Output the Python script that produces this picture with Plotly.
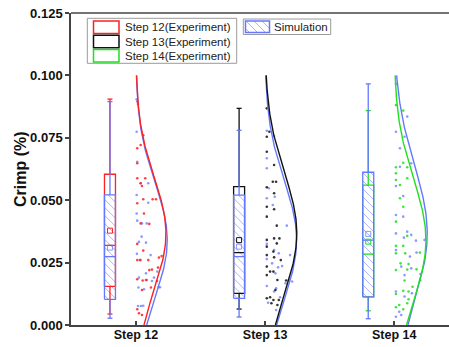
import numpy as np
import plotly.graph_objects as go

# ---------------- data ----------------
categories = ["Step 12", "Step 13", "Step 14"]
exp_names = ["Step 12(Experiment)", "Step 13(Experiment)", "Step 14(Experiment)"]
sim_name = "Simulation"

# box statistics (experiment)
exp_whisker_low = [0.0044, 0.0064, 0.0057]
exp_q1 = [0.0155, 0.0127, 0.0113]
exp_median = [0.0319, 0.0290, 0.0284]
exp_q3 = [0.0604, 0.0554, 0.0560]
exp_whisker_high = [0.0905, 0.0868, 0.0859]
exp_mean = [0.0378, 0.0340, 0.0334]

# box statistics (simulation)
sim_whisker_low = [0.0027, 0.0032, 0.0025]
sim_q1 = [0.0103, 0.0107, 0.0113]
sim_median = [0.0274, 0.0274, 0.0340]
sim_q3 = [0.0521, 0.0520, 0.0612]
sim_whisker_high = [0.0895, 0.0780, 0.0966]
sim_mean = [0.0310, 0.0314, 0.0365]

# normal distribution fits
exp_fit_mean = [0.0367, 0.0367, 0.0340]
exp_fit_sd = [0.0226, 0.0245, 0.0247]
sim_fit_mean = [0.0340, 0.0340, 0.0367]
sim_fit_sd = [0.0232, 0.0240, 0.0277]

# raw points (Crimp %)
exp_points_12 = [0.0895, 0.0885, 0.0760, 0.0708, 0.0721, 0.0648, 0.0588, 0.0588, 0.0557, 0.0568,
                 0.0488, 0.0504, 0.0504, 0.0504, 0.0447, 0.0407, 0.0405, 0.0325, 0.0298, 0.0260,
                 0.0260, 0.0260, 0.0276, 0.0270, 0.0220, 0.0222, 0.0230, 0.0183, 0.0178, 0.0176,
                 0.0140, 0.0150, 0.0063, 0.0047, 0.0040, 0.0180]
sim_points_12 = [0.0904, 0.0774, 0.0654, 0.0568, 0.0568, 0.0521, 0.0490, 0.0447, 0.0418, 0.0407,
                 0.0407, 0.0354, 0.0333, 0.0330, 0.0285, 0.0280, 0.0260, 0.0207, 0.0214, 0.0190,
                 0.0180, 0.0176, 0.0150, 0.0143, 0.0151, 0.0151, 0.0076, 0.0076, 0.0077, 0.0190]
exp_points_13 = [0.0868, 0.0754, 0.0774, 0.0694, 0.0641, 0.0574, 0.0574, 0.0552, 0.0528, 0.0474,
                 0.0464, 0.0434, 0.0398, 0.0347, 0.0347, 0.0341, 0.0327, 0.0314, 0.0294, 0.0280,
                 0.0271, 0.0234, 0.0260, 0.0214, 0.0200, 0.0214, 0.0180, 0.0178, 0.0140, 0.0111,
                 0.0107, 0.0100, 0.0100, 0.0087, 0.0080]
sim_points_13 = [0.0778, 0.0757, 0.0668, 0.0628, 0.0548, 0.0514, 0.0508, 0.0481, 0.0398, 0.0325,
                 0.0300, 0.0287, 0.0280, 0.0264, 0.0247, 0.0236, 0.0231, 0.0207, 0.0180, 0.0156,
                 0.0147, 0.0167, 0.0174, 0.0134, 0.0111, 0.0089, 0.0060]
exp_points_14 = [0.0881, 0.0859, 0.0632, 0.0650, 0.0632, 0.0608, 0.0561, 0.0581, 0.0588, 0.0414,
                 0.0474, 0.0508, 0.0317, 0.0317, 0.0357, 0.0287, 0.0287, 0.0290, 0.0247, 0.0244,
                 0.0223, 0.0220, 0.0222, 0.0178, 0.0178, 0.0124, 0.0137, 0.0134, 0.0153, 0.0071,
                 0.0080, 0.0063, 0.0087, 0.0103]
sim_points_14 = [0.0966, 0.0774, 0.0835, 0.0754, 0.0708, 0.0648, 0.0634, 0.0557, 0.0517, 0.0441,
                 0.0434, 0.0374, 0.0361, 0.0338, 0.0341, 0.0367, 0.0350, 0.0300, 0.0274, 0.0290,
                 0.0234, 0.0227, 0.0200, 0.0204, 0.0134, 0.0127, 0.0114, 0.0053, 0.0033, 0.0040]

# horizontal jitter of the raw points (pixels right of the category tick)
exp_jitter_12 = [1.5, 2.0, 7.3, 1.3, 4.7, 1.3, 1.3, 9.3, 6.0, 4.7, 1.3, 7.3, 16.7, 20.0, 8.0, 4.7, 13.3,
                 1.3, 7.3, 1.3, 4.0, 12.3, 25.7, 23.0, 13.3, 16.0, 22.0, 1.3, 6.7, 21.0, 6.0, 15.0,
                 1.3, 3.0, 6.0, 10.0]
sim_jitter_12 = [0.7, 0.7, 1.3, 4.7, 12.3, 0.7, 12.3, 0.7, 1.3, 6.0, 10.7, 5.7, 3.0, 10.0, 1.0, 14.7,
                 4.7, 10.0, 21.3, 3.0, 11.0, 16.0, 2.5, 8.0, 22.7, 24.0, 2.0, 5.0, 7.3, 18.0]
exp_jitter_13 = [1.7, 1.7, 4.3, 1.7, 9.0, 7.7, 11.0, 1.7, 9.0, 1.7, 9.0, 1.7, 11.7, 9.0, 14.3, 1.7,
                 11.7, 1.7, 8.3, 1.7, 9.0, 1.7, 15.7, 5.0, 1.7, 8.3, 12.3, 21.0, 10.3, 5.0, 1.7, 8.3,
                 13.7, 6.3, 12.3]
sim_jitter_13 = [1.7, 9.0, 1.7, 1.7, 3.7, 9.7, 1.7, 7.7, 21.7, 1.7, 9.0, 13.7, 25.0, 1.7, 7.0, 17.0,
                 13.0, 10.3, 23.7, 1.7, 11.0, 20.3, 27.0, 9.0, 15.0, 3.0, 11.0]
exp_jitter_14 = [1.7, 9.0, 1.7, 9.0, 13.0, 1.7, 5.7, 1.7, 13.0, 1.7, 9.0, 5.7, 1.7, 9.0, 13.0, 1.7,
                 11.0, 25.7, 6.3, 14.3, 22.3, 1.7, 13.0, 26.0, 10.3, 1.7, 9.0, 14.3, 18.3, 1.7, 5.0,
                 9.0, 13.0, 14.3]
sim_jitter_14 = [1.7, 1.7, 13.0, 10.3, 5.7, 17.0, 5.7, 1.7, 9.0, 1.7, 9.0, 13.0, 17.0, 21.7, 30.3,
                 1.7, 9.7, 1.7, 15.7, 22.3, 7.0, 17.0, 10.3, 26.3, 1.7, 17.7, 10.3, 5.0, 1.7, 7.0]

exp_points = [exp_points_12, exp_points_13, exp_points_14]
sim_points = [sim_points_12, sim_points_13, sim_points_14]
exp_jitter = [exp_jitter_12, exp_jitter_13, exp_jitter_14]
sim_jitter = [sim_jitter_12, sim_jitter_13, sim_jitter_14]

# ---------------- style / layout ----------------
W, H = 449, 347
ML, MR, MT, MB = 71, 0, 13, 22
PLOT_W = W - ML - MR
PLOT_H = H - MT - MB
X_RANGE = [0.497, 3.424]
Y_RANGE = [0.0, 0.125]
PX = (X_RANGE[1] - X_RANGE[0]) / PLOT_W   # x-units per pixel
PY = (Y_RANGE[1] - Y_RANGE[0]) / PLOT_H   # y-units per pixel

FONT = "Liberation Sans, Arial, sans-serif"
AXIS_COLOR = "#444444"
BLUE = "#6478ff"
HATCH_COLOR = "rgba(100,120,255,0.55)"
BLUE_PT = "rgba(100,120,255,0.75)"
EXP_COLORS = ["#ff2020", "#111111", "#1ee01e"]
EXP_PT = ["rgba(255,32,32,0.85)", "rgba(17,17,17,0.85)", "rgba(30,224,30,0.85)"]

BOX_OFF = -26 * PX
BOX_W = 11 * PX
CAP_W = 5 * PX
HATCH_STEP = 8.0   # px between hatch lines (vertical spacing)
exp_curve_px = [30.0, 31.7, 31.7]
sim_curve_px = [31.3, 31.5, 33.0]
CURVE_TOP = 0.1

pos = np.arange(1, len(categories) + 1)


def p2paper(x, y):
    return (x - ML) / PLOT_W, (H - MB - y) / PLOT_H


def hatch_segments(ul, ur, wb, wt, step):
    """'\\' hatch lines inside a rectangle given in upward pixel coords (u right, w up)."""
    xs, ys = [], []
    k = ul + wb + step / 2
    while k < ur + wt:
        a = max(ul, k - wt)
        b = min(ur, k - wb)
        if b > a:
            xs += [a, b, None]
            ys += [k - a, k - b, None]
        k += step
    return xs, ys


fig = go.Figure()

# ---- hatch of simulation boxes ----
hx, hy = [], []
for i, c in enumerate(pos + BOX_OFF):
    ul = (c - BOX_W / 2) / PX
    ur = (c + BOX_W / 2) / PX
    wb = sim_q1[i] / PY
    wt = sim_q3[i] / PY
    xs, ys = hatch_segments(ul, ur, wb, wt, HATCH_STEP)
    hx += [None if v is None else v * PX for v in xs]
    hy += [None if v is None else v * PY for v in ys]
fig.add_trace(go.Scatter(x=hx, y=hy, mode="lines", line=dict(color=HATCH_COLOR, width=1),
                         showlegend=False, hoverinfo="skip"))


def box_lines(c, lo, q1, med, q3, hi, color, width=1.3):
    l, r = c - BOX_W / 2, c + BOX_W / 2
    xs = [l, r, r, l, l, None,
          c, c, None, c, c, None,
          c - CAP_W / 2, c + CAP_W / 2, None, c - CAP_W / 2, c + CAP_W / 2, None,
          l, r]
    ys = [q1, q1, q3, q3, q1, None,
          q3, hi, None, q1, lo, None,
          hi, hi, None, lo, lo, None,
          med, med]
    fig.add_trace(go.Scatter(x=xs, y=ys, mode="lines", line=dict(color=color, width=width),
                             showlegend=False, hoverinfo="skip"))


for i, c in enumerate(pos + BOX_OFF):
    box_lines(c, exp_whisker_low[i], exp_q1[i], exp_median[i], exp_q3[i], exp_whisker_high[i],
              EXP_COLORS[i])
for i, c in enumerate(pos + BOX_OFF):
    box_lines(c, sim_whisker_low[i], sim_q1[i], sim_median[i], sim_q3[i], sim_whisker_high[i],
              BLUE)

# means
fig.add_trace(go.Scatter(x=pos + BOX_OFF, y=exp_mean, mode="markers",
                         marker=dict(symbol="square-open", size=5, color=EXP_COLORS,
                                     line=dict(width=1)),
                         showlegend=False, hoverinfo="skip"))
fig.add_trace(go.Scatter(x=pos + BOX_OFF, y=sim_mean, mode="markers",
                         marker=dict(symbol="square-open", size=5, color=BLUE_PT,
                                     line=dict(width=1)),
                         showlegend=False, hoverinfo="skip"))

# ---- raw points ----
for i, c in enumerate(pos):
    fig.add_trace(go.Scatter(x=c + np.array(sim_jitter[i]) * PX, y=sim_points[i], mode="markers",
                             marker=dict(size=2.6, color=BLUE_PT, line=dict(width=0)),
                             showlegend=False, hoverinfo="skip"))
    fig.add_trace(go.Scatter(x=c + np.array(exp_jitter[i]) * PX, y=exp_points[i], mode="markers",
                             marker=dict(size=2.6, color=EXP_PT[i], line=dict(width=0)),
                             showlegend=False, hoverinfo="skip"))

# ---- distribution curves ----
yy = np.linspace(0.0, CURVE_TOP, 200)
for i, c in enumerate(pos):
    xs = c + sim_curve_px[i] * PX * np.exp(-0.5 * ((yy - sim_fit_mean[i]) / sim_fit_sd[i]) ** 2)
    fig.add_trace(go.Scatter(x=xs, y=yy, mode="lines", line=dict(color=BLUE, width=1.4),
                             showlegend=False, hoverinfo="skip"))
    xe = c + exp_curve_px[i] * PX * np.exp(-0.5 * ((yy - exp_fit_mean[i]) / exp_fit_sd[i]) ** 2)
    fig.add_trace(go.Scatter(x=xe, y=yy, mode="lines", line=dict(color=EXP_COLORS[i], width=1.4),
                             showlegend=False, hoverinfo="skip"))

# ---- legend (drawn) ----
shapes = []
shapes.append(dict(type="line", xref="paper", yref="paper", x0=0, x1=1, y0=1, y1=1,
                   line=dict(color=AXIS_COLOR, width=1.5), layer="above"))
x0, y0 = p2paper(87.3, 18.3)
x1, y1 = p2paper(236.7, 63.3)
shapes.append(dict(type="rect", xref="paper", yref="paper", x0=x0, x1=x1, y0=y1, y1=y0,
                   line=dict(color="#9a9a9a", width=1), fillcolor="white", layer="below"))
row_y = [27.2, 41.5, 55.8]
annotations = []
for i, name in enumerate(exp_names):
    sx0, sy0 = p2paper(93.5, row_y[i] - 6.2)
    sx1, sy1 = p2paper(119.0, row_y[i] + 6.2)
    shapes.append(dict(type="rect", xref="paper", yref="paper", x0=sx0, x1=sx1, y0=sy1, y1=sy0,
                       line=dict(color=EXP_COLORS[i], width=1.5), fillcolor="rgba(0,0,0,0)",
                       layer="above"))
    tx, ty = p2paper(123.0, row_y[i])
    annotations.append(dict(x=tx, y=ty, xref="paper", yref="paper", text=name, showarrow=False,
                            xanchor="left", yanchor="middle",
                            font=dict(family=FONT, size=11.5, color="#222222")))
x0, y0 = p2paper(243.3, 19.0)
x1, y1 = p2paper(330.7, 34.5)
shapes.append(dict(type="rect", xref="paper", yref="paper", x0=x0, x1=x1, y0=y1, y1=y0,
                   line=dict(color="#9a9a9a", width=1), fillcolor="white", layer="below"))
# simulation swatch: frame + hatch (pixel coords -> paper)
SW_L, SW_R, SW_T, SW_B = 245.5, 269.5, 21.0, 32.5
sx0, sy0 = p2paper(SW_L, SW_T)
sx1, sy1 = p2paper(SW_R, SW_B)
xs, ys = hatch_segments(SW_L, SW_R, H - SW_B, H - SW_T, HATCH_STEP)
for j in range(0, len(xs), 3):
    ax, ay = p2paper(xs[j], H - ys[j])
    bx, by = p2paper(xs[j + 1], H - ys[j + 1])
    shapes.append(dict(type="line", xref="paper", yref="paper", x0=ax, y0=ay, x1=bx, y1=by,
                       line=dict(color=HATCH_COLOR, width=1), layer="above"))
shapes.append(dict(type="rect", xref="paper", yref="paper", x0=sx0, x1=sx1, y0=sy1, y1=sy0,
                   line=dict(color=BLUE, width=1.5), fillcolor="rgba(0,0,0,0)", layer="above"))
tx, ty = p2paper(272.0, 27.0)
annotations.append(dict(x=tx, y=ty, xref="paper", yref="paper", text=sim_name, showarrow=False,
                        xanchor="left", yanchor="middle",
                        font=dict(family=FONT, size=11.5, color="#222222")))

tx, ty = p2paper(20.0, 169.0)
annotations.append(dict(x=tx, y=ty, xref="paper", yref="paper", text="Crimp (%)", showarrow=False,
                        textangle=-90, xanchor="center", yanchor="middle",
                        font=dict(family=FONT, size=16, color="#111111", weight="bold")))

fig.update_layout(
    width=W, height=H,
    margin=dict(l=ML, r=MR, t=MT, b=MB, pad=0),
    paper_bgcolor="white", plot_bgcolor="white",
    showlegend=False,
    font=dict(family=FONT),
    xaxis=dict(range=X_RANGE, tickmode="array", tickvals=pos, ticktext=categories,
               ticks="inside", ticklen=4, tickwidth=1.5, tickcolor=AXIS_COLOR,
               ticklabelstandoff=-3,
               showline=True, linecolor=AXIS_COLOR, linewidth=1.5, showgrid=False, zeroline=False,
               tickfont=dict(family=FONT, size=12.5, color="#111111", weight="bold")),
    yaxis=dict(range=Y_RANGE, tickmode="array",
               tickvals=[0, 0.025, 0.05, 0.075, 0.1, 0.125],
               ticktext=["0.000", "0.025", "0.050", "0.075", "0.100", "0.125"],
               ticks="outside", ticklen=4, tickwidth=1.5, tickcolor=AXIS_COLOR,
               showline=True, linecolor=AXIS_COLOR, linewidth=1.5, showgrid=False, zeroline=False,
               tickfont=dict(family=FONT, size=13, color="#111111", weight="bold")),
    shapes=shapes, annotations=annotations,
)

fig.write_html("out.html", config={"displayModeBar": False})
